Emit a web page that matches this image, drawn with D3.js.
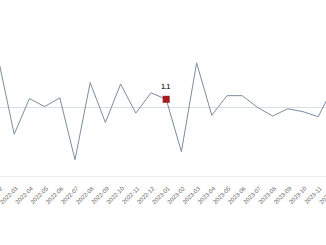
<!DOCTYPE html>
<html lang="en">
<head>
	<meta charset="UTF-8">
	<title>Monthly change</title>
	<script src="https://cdn.jsdelivr.net/npm/d3@7"></script>
	<style>
		*{
			margin: 0px;
			box-sizing: border-box;
		}
		html,body{
			width: 326px;
			height: 245px;
			overflow: hidden;
			background: #fff;
		}
		.xAxis path{
			stroke: #ececec;
		}
		.xAxis line{
			stroke: none;
		}
		.xAxis text{
			font-family: "Liberation Sans", Arial, sans-serif;
			font-size: 6px;
			fill: #666;
		}
		.series{
			fill: none;
			stroke: #7c8c9e;
			stroke-width: 1;
		}
		.refLine{
			stroke: #d9dfe2;
			stroke-width: 1;
		}
		.valLabel{
			font-family: "Liberation Sans", Arial, sans-serif;
			font-size: 6.5px;
			font-weight: bold;
			fill: #333;
		}
	</style>
</head>
<body>
	<svg id="svg"></svg>
	<script>
		// months shown in the crop
		var months = ["2022-02", "2022-03", "2022-04", "2022-05", "2022-06", "2022-07",
			"2022-08", "2022-09", "2022-10", "2022-11", "2022-12", "2023-01",
			"2023-02", "2023-03", "2023-04", "2023-05", "2023-06", "2023-07",
			"2023-08", "2023-09", "2023-10", "2023-11", "2023-12"];
		// values
		var values = [6.2, -3.7, 1.2, 0.1, 1.3, -7.2, 3.4, -2.1, 3.2, -0.8, 2.0, 1.1,
			-6.1, 6.1, -1.1, 1.6, 1.6, 0.0, -1.2, -0.2, -0.6, -1.3, 2.8];
		var highlightMonth = "2023-01";
		var refValue = 0;

		var w = 326,
			h = 245,
			svg = d3.select("#svg").attr("width", w).attr("height", h),
			axisY = 176;

		var data = months.map(function(m, i) {
			return {month: m, value: values[i]};
		});

		var xScale = d3.scalePoint()
			.domain(months)
			.range([-1, 333.4]);

		var yScale = d3.scaleLinear()
			.domain([-8, 8])
			.range([165.5, 49.1]);

		// reference line
		svg.append("line")
			.attr("class", "refLine")
			.attr("x1", 0)
			.attr("x2", w)
			.attr("y1", Math.round(yScale(refValue)) + 0.5)
			.attr("y2", Math.round(yScale(refValue)) + 0.5);

		// x axis
		var xAxis = svg.append("g")
			.attr("class", "xAxis")
			.attr("transform", "translate(0," + (axisY + 0.5) + ")")
			.call(d3.axisBottom(xScale).tickSize(0).tickPadding(0));
		xAxis.select(".domain").attr("d", "M0,0H" + w);
		xAxis.selectAll("text")
			.attr("x", 0)
			.attr("y", 0)
			.attr("dy", "0.35em")
			.style("text-anchor", "end")
			.attr("transform", "translate(2,11) rotate(-45)");

		// series line
		var line = d3.line()
			.x(function(d) { return xScale(d.month); })
			.y(function(d) { return yScale(d.value); });
		svg.append("path")
			.datum(data)
			.attr("class", "series")
			.attr("d", line);

		// highlighted point
		var hl = data.filter(function(d) { return d.month == highlightMonth; });
		svg.selectAll(".marker")
			.data(hl)
			.enter().append("rect")
			.attr("class", "marker")
			.attr("x", function(d) { return xScale(d.month) - 3.5; })
			.attr("y", function(d) { return yScale(d.value) - 3.5; })
			.attr("width", 7)
			.attr("height", 7)
			.attr("fill", "#a51d1d");
		svg.selectAll(".valLabel")
			.data(hl)
			.enter().append("text")
			.attr("class", "valLabel")
			.attr("x", function(d) { return xScale(d.month) - 0.5; })
			.attr("y", function(d) { return yScale(d.value) - 10; })
			.attr("text-anchor", "middle")
			.text(function(d) { return d.value.toFixed(1); });
	</script>
</body>
</html>
